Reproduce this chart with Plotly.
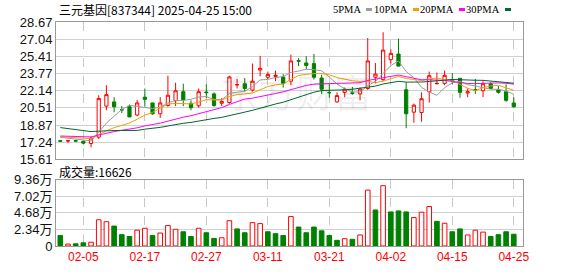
import plotly.graph_objects as go
import pandas as pd

# ---------------- data ----------------
dates = ["2025-01-23", "2025-01-24", "2025-01-27", "2025-02-05", "2025-02-06", "2025-02-07",
         "2025-02-10", "2025-02-11", "2025-02-12", "2025-02-13", "2025-02-14", "2025-02-17",
         "2025-02-18", "2025-02-19", "2025-02-20", "2025-02-21", "2025-02-24", "2025-02-25",
         "2025-02-26", "2025-02-27", "2025-02-28", "2025-03-03", "2025-03-04", "2025-03-05",
         "2025-03-06", "2025-03-07", "2025-03-10", "2025-03-11", "2025-03-12", "2025-03-13",
         "2025-03-14", "2025-03-17", "2025-03-18", "2025-03-19", "2025-03-20", "2025-03-21",
         "2025-03-24", "2025-03-25", "2025-03-26", "2025-03-27", "2025-03-28", "2025-03-31",
         "2025-04-01", "2025-04-02", "2025-04-03", "2025-04-07", "2025-04-08", "2025-04-09",
         "2025-04-10", "2025-04-11", "2025-04-14", "2025-04-15", "2025-04-16", "2025-04-17",
         "2025-04-18", "2025-04-21", "2025-04-22", "2025-04-23", "2025-04-24", "2025-04-25"]

opens = [17.40, 17.36, 17.40, 17.34, 17.13, 17.73, 20.68, 21.08, 20.34, 20.62,
         19.83, 21.53, 20.98, 19.95, 20.74, 21.20, 22.05, 20.95, 20.71, 22.02,
         21.84, 20.95, 21.01, 22.69, 22.81, 22.20, 24.11, 23.42, 23.50, 23.45,
         23.05, 25.00, 24.78, 24.72, 23.35, 21.99, 21.08, 21.99, 21.95, 21.84,
         22.35, 23.42, 23.20, 25.09, 25.63, 22.23, 20.10, 20.07, 22.05, 22.80,
         22.84, 23.16, 23.32, 21.93, 22.23, 22.14, 22.81, 22.23, 22.05, 20.98]
highs = [17.45, 17.42, 17.48, 17.43, 17.79, 21.71, 22.66, 21.53, 20.68, 20.83,
         21.26, 22.35, 21.00, 21.53, 23.57, 22.90, 22.81, 21.23, 22.35, 22.75,
         21.99, 21.44, 23.57, 23.26, 23.35, 24.72, 25.45, 23.96, 24.05, 23.72,
         25.57, 25.24, 25.42, 25.63, 23.66, 22.75, 21.99, 22.44, 22.50, 22.44,
         27.15, 24.78, 27.70, 26.09, 27.09, 22.96, 20.92, 21.99, 23.96, 23.87,
         24.05, 23.81, 23.35, 22.35, 23.26, 23.05, 22.96, 22.59, 22.75, 21.53]
lows = [17.30, 17.19, 17.30, 17.03, 16.76, 17.55, 20.29, 20.10, 20.01, 19.65,
        19.71, 20.62, 19.86, 19.56, 20.62, 20.68, 20.68, 20.29, 20.53, 21.44,
        20.62, 20.68, 20.92, 22.35, 22.05, 22.05, 23.51, 23.23, 23.05, 22.44,
        22.66, 24.48, 24.18, 23.20, 21.84, 21.47, 21.01, 21.53, 21.75, 21.23,
        22.23, 22.84, 23.05, 24.72, 24.48, 18.58, 19.10, 19.19, 21.01, 22.75,
        22.66, 22.75, 21.47, 21.53, 21.84, 21.53, 22.35, 21.87, 21.08, 20.53]
closes = [17.35, 17.40, 17.36, 17.16, 17.64, 21.41, 21.77, 20.62, 20.32, 19.65,
          20.98, 21.32, 19.95, 20.98, 21.71, 22.14, 21.29, 20.53, 22.05, 21.96,
          20.74, 21.13, 23.45, 22.72, 22.35, 23.05, 24.27, 23.69, 23.60, 22.84,
          24.97, 24.95, 24.54, 23.42, 22.29, 21.95, 21.68, 22.29, 21.90, 22.29,
          24.97, 23.72, 26.00, 25.69, 24.48, 19.95, 20.77, 21.38, 23.57, 22.84,
          23.60, 23.12, 21.99, 22.05, 22.20, 22.81, 22.35, 21.99, 21.23, 20.62]
volumes = [14700, 2700, 3100, 4500, 5300, 37000, 34300, 28100, 16000, 13400,
           22300, 25000, 14700, 18300, 29000, 23600, 20100, 13400, 25000, 18700,
           10700, 11600, 35700, 24100, 18700, 33000, 31600, 20100, 17400, 14700,
           41500, 26700, 18700, 26700, 21400, 14700, 8000, 10300, 9400, 15600,
           78900, 50800, 85100, 48100, 49500, 48100, 40100, 47700, 55700, 34800,
           32100, 20100, 24100, 15600, 22300, 19600, 13400, 16000, 20100, 16626]

# moving-average values at the start of the window (read off the chart,
# they depend on sessions before the first candle)
ma5_head = [17.71, 17.63, 17.54, 17.41]
ma10_head = [17.76, 17.72, 17.67, 17.61, 17.59, 17.95, 18.35, 18.63, 18.88]
ma20_head = [17.84, 17.82, 17.80, 17.76, 17.75, 17.93, 18.12, 18.26, 18.38, 18.47,
             18.62, 18.80, 18.90, 19.06, 19.25, 19.46, 19.63, 19.77, 19.98]
ma30_head = [18.64, 18.54, 18.45, 18.34, 18.26, 18.30, 18.35, 18.36, 18.37, 18.35,
             18.37, 18.49, 18.56, 18.66, 18.79, 18.93, 19.05, 19.13, 19.27, 19.41,
             19.51, 19.61, 19.80, 19.96, 20.11, 20.28, 20.50, 20.69, 20.88]

price_ticks = [15.61, 17.24, 18.87, 20.51, 22.14, 23.77, 25.41, 27.04, 28.67]
vol_ticks = [0, 23400, 46800, 70200, 93600]
vol_tick_labels = ["0", "2.34万", "4.68万", "7.02万", "9.36万"]
tick_idx = [3, 11, 19, 27, 35, 43, 51, 59]

title_text = "三元基因[837344] 2025-04-25 15:00"
vol_title = "成交量:16626"
ma_names = ["5PMA", "10PMA", "20PMA", "30PMA"]
ma_colors = ["#9c9c9c", "#f0a000", "#ff00ff", "#006633"]

# ---------------- derived ----------------
cs = pd.Series(closes)
def ma(n, head):
    vals = cs.rolling(n).mean().round(3).tolist()
    return head + vals[len(head):]

ma_lines = [ma(5, ma5_head), ma(10, ma10_head), ma(20, ma20_head), ma(30, ma30_head)]

RED = "#ff0000"
GREEN = "#008000"
vol_fill, vol_line = [], []
for i, c in enumerate(closes):
    prev = closes[i - 1] if i > 0 else c + 1
    if c >= prev:
        vol_fill.append("#ffffff"); vol_line.append(RED)
    else:
        vol_fill.append(GREEN); vol_line.append(GREEN)

# ---------------- figure ----------------
W, H = 578, 276
L, R, T, B = 56, 55, 22, 21
PW, PH = W - L - R, H - T - B

def px_x(px):
    return (px - L) / PW

def px_y(py):
    return (H - B - py) / PH

fig = go.Figure()

fig.add_trace(go.Candlestick(
    x=dates, open=opens, high=highs, low=lows, close=closes,
    increasing=dict(line=dict(color=RED, width=1), fillcolor="#ffffff"),
    decreasing=dict(line=dict(color=GREEN, width=1), fillcolor=GREEN),
    whiskerwidth=0, xaxis="x", yaxis="y", showlegend=False, hoverinfo="skip"))

for name, col, vals in zip(ma_names, ma_colors, ma_lines):
    fig.add_trace(go.Scatter(x=dates, y=vals, mode="lines", name=name,
                             line=dict(color=col, width=1), xaxis="x", yaxis="y",
                             showlegend=False, hoverinfo="skip"))

fig.add_trace(go.Bar(x=dates, y=volumes, width=0.6,
                     marker=dict(color=vol_fill, line=dict(color=vol_line, width=1)),
                     xaxis="x2", yaxis="y2", showlegend=False, hoverinfo="skip"))

xr = [-0.56, 60.2]
common_x = dict(type="category", range=xr, showgrid=True, gridcolor="#c8c8c8",
                griddash="dash", gridwidth=1, tickmode="array",
                tickvals=[dates[i] for i in tick_idx],
                ticktext=[dates[i][5:] for i in tick_idx],
                showline=True, linecolor="#999999", linewidth=1, mirror=True,
                ticks="", zeroline=False, fixedrange=True)

fig.update_layout(
    width=W, height=H, margin=dict(l=L, r=R, t=T, b=B),
    paper_bgcolor="#ffffff", plot_bgcolor="#ffffff",
    boxgap=0.4,
    xaxis=dict(common_x, domain=[0, 1], anchor="y", showticklabels=False,
               rangeslider=dict(visible=False)),
    xaxis2=dict(common_x, domain=[0, 1], anchor="y2", showticklabels=True,
                tickfont=dict(family="Liberation Sans", size=12, color=RED)),
    yaxis=dict(domain=[px_y(165), 1], range=[price_ticks[0], price_ticks[-1]],
               tickmode="array", tickvals=price_ticks,
               ticktext=[f"{v:.2f}" for v in price_ticks],
               showgrid=True, gridcolor="#d0d0d0", gridwidth=1,
               showline=True, linecolor="#999999", linewidth=1, mirror=True,
               ticks="", zeroline=False, fixedrange=True,
               tickfont=dict(family="Liberation Sans", size=13, color="#111111")),
    yaxis2=dict(domain=[0, px_y(186)], range=[0, vol_ticks[-1]],
                tickmode="array", tickvals=vol_ticks, ticktext=vol_tick_labels,
                showgrid=True, gridcolor="#d0d0d0", gridwidth=1,
                showline=True, linecolor="#999999", linewidth=1, mirror=True,
                ticks="", zeroline=False, fixedrange=True,
                tickfont=dict(family="Liberation Sans, Noto Sans CJK SC", size=13, color="#111111")),
)

ann = []
ann.append(dict(text=title_text, x=px_x(57), y=px_y(9), xref="paper", yref="paper",
                xanchor="left", yanchor="middle", showarrow=False,
                font=dict(family="Noto Sans CJK SC", size=12, color="#000000")))
ann.append(dict(text=vol_title, x=px_x(57), y=px_y(177), xref="paper", yref="paper",
                xanchor="left", yanchor="middle", showarrow=False,
                font=dict(family="Noto Sans CJK SC", size=12, color="#000000")))
ann.append(dict(text="东方财富", x=px_x(296), y=px_y(93), xref="paper", yref="paper",
                xanchor="center", yanchor="middle", showarrow=False,
                font=dict(family="Noto Sans CJK SC", size=38, color="rgba(0,0,0,0.07)")))

shapes = []
legend_right = [363, 410, 456, 502]
for name, col, xr_ in zip(ma_names, ma_colors, legend_right):
    ann.append(dict(text=name, x=px_x(xr_), y=px_y(9), xref="paper", yref="paper",
                    xanchor="right", yanchor="middle", showarrow=False,
                    font=dict(family="Liberation Serif", size=10.5, color="#000000")))
    shapes.append(dict(type="line", xref="paper", yref="paper",
                       x0=px_x(xr_ + 3), x1=px_x(xr_ + 9), y0=px_y(9), y1=px_y(9),
                       line=dict(color=col, width=3)))

fig.update_layout(annotations=ann, shapes=shapes)
fig.write_html("out.html")
